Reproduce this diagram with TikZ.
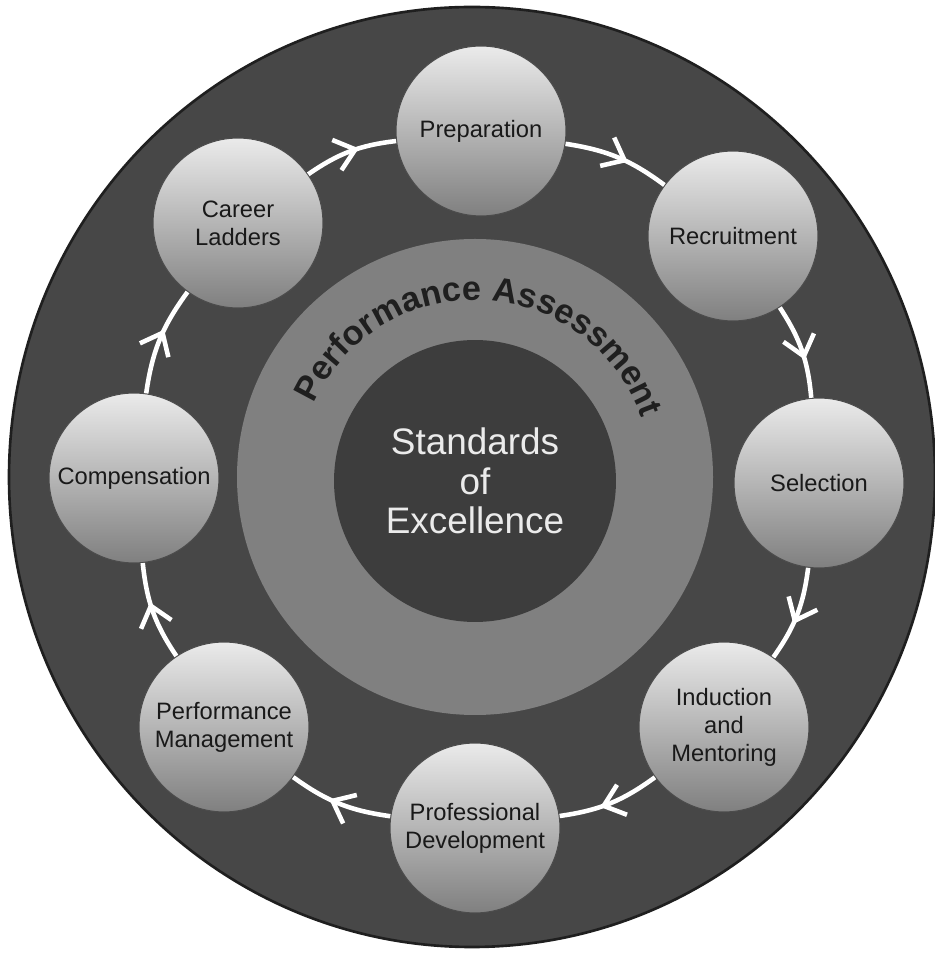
\documentclass[tikz,border=0pt]{standalone}
\usepackage{fontspec}
\setmainfont{Liberation Sans}
\usetikzlibrary{arrows.meta,decorations.markings,decorations.text}
\begin{document}
\begin{tikzpicture} [x = 0.02cm, y = 0.02cm,
	stage/.style = {circle, draw = black!70, line width = 0.6pt, top color = black!8, bottom color = black!50, minimum size = 3.4cm, inner sep = 0pt, align = center, text = black!90, font = \fontsize{13.5}{16}\selectfont},
	flow/.style = {draw = white, line width = 2.6pt, postaction = {decorate}, decoration = {markings, mark = at position 0.6 with {\arrow[white]{Straight Barb[length = 11pt, width = 18pt]}}}}]
	\useasboundingbox (0,0) rectangle (935,957);
	\fill [black!72, draw = black!88, line width = 1.5pt] (472,480) ellipse [x radius = 463, y radius = 470];
	\coordinate (hub) at (475,480);
	\fill [black!50] (hub) circle [radius = 238];
	\node [circle, fill = black!76, minimum size = 5.64cm, align = center, text = black!8, font = \fontsize{21}{22.5}\selectfont] (core) at (475,476) {Standards\\of\\Excellence};
	\path [decorate, decoration = {text along path, text align = center, text color = black!88, text = {|\bfseries\fontsize{19.5}{19.5}\selectfont|Performance Assessment}}] (hub) ++(165:177) arc [start angle = 165, end angle = 10, radius = 177];
	\node [stage] (prep) at (481,826) {Preparation};
	\node [stage] (recruit) at (733,721) {Recruitment};
	\node [stage] (select) at (819,474) {Selection};
	\node [stage] (induct) at (724,230) {Induction\\and\\Mentoring};
	\node [stage] (profdev) at (475,129) {Professional\\Development};
	\node [stage] (perfman) at (224,230) {Performance\\Management};
	\node [stage] (comp) at (134,479) {Compensation};
	\node [stage] (career) at (238,734) {Career\\Ladders};
	\draw [flow] (career) to [bend left = 14] (prep);
	\draw [flow] (prep) to [bend left = 14] (recruit);
	\draw [flow] (recruit) to [bend left = 14] (select);
	\draw [flow] (select) to [bend left = 14] (induct);
	\draw [flow] (induct) to [bend left = 14] (profdev);
	\draw [flow] (profdev) to [bend left = 14] (perfman);
	\draw [flow] (perfman) to [bend left = 14] (comp);
	\draw [flow] (comp) to [bend left = 14] (career);
\end{tikzpicture}
\end{document}
